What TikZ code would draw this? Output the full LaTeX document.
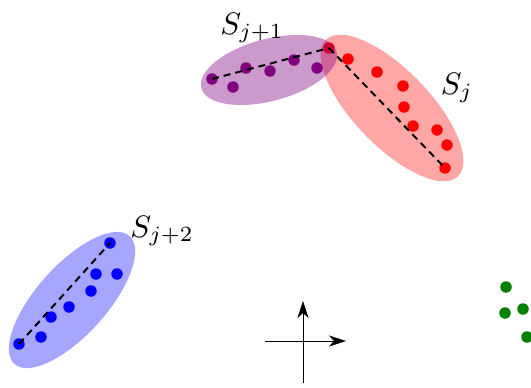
\documentclass[tikz,border=0pt]{standalone}
\usetikzlibrary{arrows.meta,shapes.geometric}
\definecolor{plum}{rgb}{0.5,0,0.5}

\begin{document}
\begin{tikzpicture}[x=1pt,y=-1pt,>={Stealth[length=17pt,width=11pt,inset=5pt]},
  dot/.style={circle,inner sep=0pt,minimum size=11.5pt},
  blob/.style={ellipse,inner sep=0pt,fill opacity=0.35},
  trend/.style={line width=2pt,dash pattern=on 7pt off 5pt},
  lbl/.style={scale=3.1}]
\useasboundingbox (0,0) rectangle (531,388);
% red cluster S_j
\node[blob,fill=red,rotate=-46,minimum width=190pt,minimum height=76pt] (Sj) at (392,108) {};
\foreach \x/\y [count=\i] in {329/48,348/59,377/72,403/86,404/107,413/126,437/130,447/145,445/168}
  \node[dot,fill=red] (r\i) at (\x,\y) {};
% purple cluster S_{j+1}
\node[blob,fill=plum,fill opacity=0.4,rotate=15,minimum width=140pt,minimum height=62pt] (Sjj) at (269,70) {};
\foreach \x/\y [count=\i] in {212/79,233/87,246/68,270/71,294/60,317/68}
  \node[dot,fill=plum] (p\i) at (\x,\y) {};
\draw[trend] (p1.center) -- (r1.center);
\draw[trend] (r1.center) -- (r9.center);
% blue cluster S_{j+2}
\node[blob,fill=blue,rotate=48,minimum width=172pt,minimum height=70pt] (Sjjj) at (72,300) {};
\foreach \x/\y [count=\i] in {19/344,41/337,51/317,69/307,91/291,96/274,117/274,110/243}
  \node[dot,fill=blue] (b\i) at (\x,\y) {};
\draw[trend] (b1.center) -- (b8.center);
% green points
\foreach \x/\y [count=\i] in {506/287,505/313,523/309,527/337}
  \node[dot,fill=green!50!black] (g\i) at (\x,\y) {};
% labels
\node[lbl] (lj) at (457,88) {$S_j$};
\node[lbl] (ljj) at (252,28) {$S_{j+1}$};
\node[lbl] (ljjj) at (162,231) {$S_{j+2}$};
% axes
\coordinate (o) at (303,341);
\coordinate (xl) at (265,341);
\coordinate (xr) at (346,341);
\coordinate (yb) at (303,383);
\coordinate (yt) at (303,301);
\draw[semithick,->] (xl) -- (xr);
\draw[semithick,->] (yb) -- (yt);
\end{tikzpicture}
\end{document}
